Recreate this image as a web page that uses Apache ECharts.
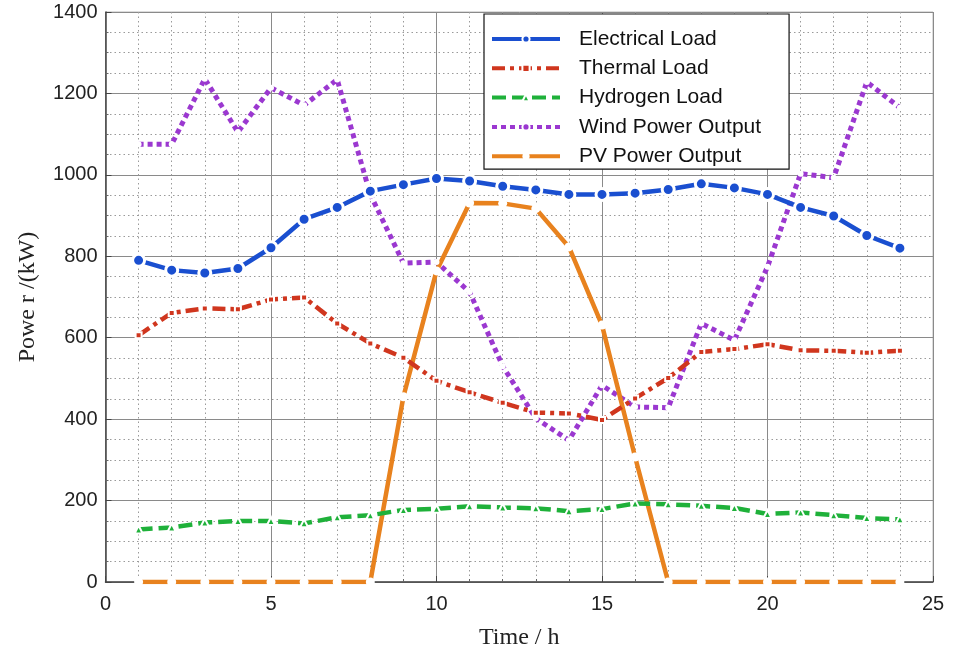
<!DOCTYPE html>
<html>
<head>
<meta charset="utf-8">
<script src="https://cdn.jsdelivr.net/npm/echarts@6/dist/echarts.min.js"></script>
<style>html,body{margin:0;padding:0;background:#fff;}#c{width:960px;height:656px;}</style>
</head>
<body>
<div id="c"></div>
<script>
const hours = [1,2,3,4,5,6,7,8,9,10,11,12,13,14,15,16,17,18,19,20,21,22,23,24];
const electricalLoad = [790,766,759,770,821,891,920,960,976,991,985,972,963,952,952,955,964,978,968,952,920,899,851,820];
const thermalLoad = [606,661,672,670,694,699,635,586,551,494,466,440,416,414,398,451,501,565,572,584,569,568,563,568];
const hydrogenLoad = [129,134,146,150,150,144,159,164,177,180,186,183,181,174,179,193,191,187,182,167,171,164,157,154];
const windOutput = [1075,1075,1236,1105,1214,1171,1234,952,783,786,712,530,402,348,483,430,428,635,594,774,1003,993,1228,1165];
const pvOutput = [0,0,0,0,0,0,0,0,455,764,931,930,917,823,631,307,0,0,0,0,0,0,0,0];
const seriesNames = ['Electrical Load','Thermal Load','Hydrogen Load','Wind Power Output','PV Power Output'];
const xTicks = [0,5,10,15,20,25];
const yTicks = [0,200,400,600,800,1000,1200,1400];

function pairs(vals){ return hours.map((h,i)=>[h, vals[i]]); }

const chart = echarts.init(document.getElementById('c'), null, {renderer:'canvas'});
const tickFont = {fontFamily:'Liberation Sans, Arial, sans-serif', fontSize:20, color:'#222'};
chart.setOption({
  animation:false,
  backgroundColor:'#fff',
  grid:{left:105.5, right:27, top:12, bottom:74, show:true, borderColor:'#b8b8b8', borderWidth:1},
  legend:{
    orient:'vertical', left:484, top:14,
    padding:[14,28,2,6], itemGap:7.3, itemWidth:68, itemHeight:9,
    backgroundColor:'#fff', borderColor:'#111', borderWidth:1.2,
    lineStyle:{width:4},
    textStyle:{fontFamily:'Liberation Sans, Arial, sans-serif', fontSize:21, lineHeight:22, color:'#111', padding:[0,0,0,14]},
    data:seriesNames
  },
  xAxis:{
    type:'value', min:xTicks[0], max:xTicks[xTicks.length-1], interval:5,
    name:'Time / h', nameLocation:'middle', nameGap:44,
    nameTextStyle:{fontFamily:'Liberation Serif, Times New Roman, serif', fontSize:24, color:'#222'},
    axisLine:{show:true, lineStyle:{color:'#444', width:1.5}},
    axisTick:{show:true, inside:true, length:6, lineStyle:{color:'#444'}},
    minorTick:{show:true, splitNumber:5, length:3, lineStyle:{color:'#666'}},
    axisLabel:{...tickFont, margin:12, formatter:v=>String(v)},
    splitLine:{show:true, lineStyle:{color:'#8a8a8a', width:1}},
    minorSplitLine:{show:true, lineStyle:{color:'#9a9a9a', width:1, type:[1.5,3]}}
  },
  yAxis:{
    type:'value', min:yTicks[0], max:yTicks[yTicks.length-1], interval:200,
    name:'Powe r /(kW)', nameLocation:'middle', nameGap:66, nameRotate:90,
    nameTextStyle:{fontFamily:'Liberation Serif, Times New Roman, serif', fontSize:24, color:'#222'},
    axisLine:{show:true, lineStyle:{color:'#444', width:1.5}},
    axisTick:{show:true, inside:true, length:6, lineStyle:{color:'#444'}},
    minorTick:{show:true, splitNumber:4, length:3, lineStyle:{color:'#666'}},
    axisLabel:{...tickFont, margin:8, formatter:v=>String(v)},
    splitLine:{show:true, lineStyle:{color:'#8a8a8a', width:1}},
    minorSplitLine:{show:true, lineStyle:{color:'#9a9a9a', width:1, type:[1.5,3]}}
  },
  series:[
    {name:seriesNames[0], type:'line', data:pairs(electricalLoad), z:5,
     symbol:'circle', symbolSize:12, showSymbol:true,
     itemStyle:{color:'#1a4fd0', borderColor:'#fff', borderWidth:3},
     lineStyle:{color:'#1a4fd0', width:4.5}},
    {name:seriesNames[1], type:'line', data:pairs(thermalLoad), z:4,
     symbol:'rect', symbolSize:6,
     itemStyle:{color:'#d0361e', borderColor:'#fff', borderWidth:2},
     lineStyle:{color:'#d0361e', width:4.5, type:[13,5,4,5]}},
    {name:seriesNames[2], type:'line', data:pairs(hydrogenLoad), z:4,
     symbol:'triangle', symbolSize:8,
     itemStyle:{color:'#1fb13a', borderColor:'#fff', borderWidth:2},
     lineStyle:{color:'#1fb13a', width:4.5, type:[14,6]}},
    {name:seriesNames[3], type:'line', data:pairs(windOutput), z:3,
     symbol:'circle', symbolSize:3,
     itemStyle:{color:'#9b38d0', borderColor:'#fff', borderWidth:3},
     lineStyle:{color:'#9b38d0', width:5, type:[5,4]}},
    {name:seriesNames[4], type:'line', data:pairs(pvOutput), z:3,
     symbol:'circle', symbolSize:9,
     itemStyle:{color:'#fff', borderColor:'#fff', borderWidth:0},
     lineStyle:{color:'#e8821e', width:4.5}}
  ]
});
</script>
</body>
</html>
